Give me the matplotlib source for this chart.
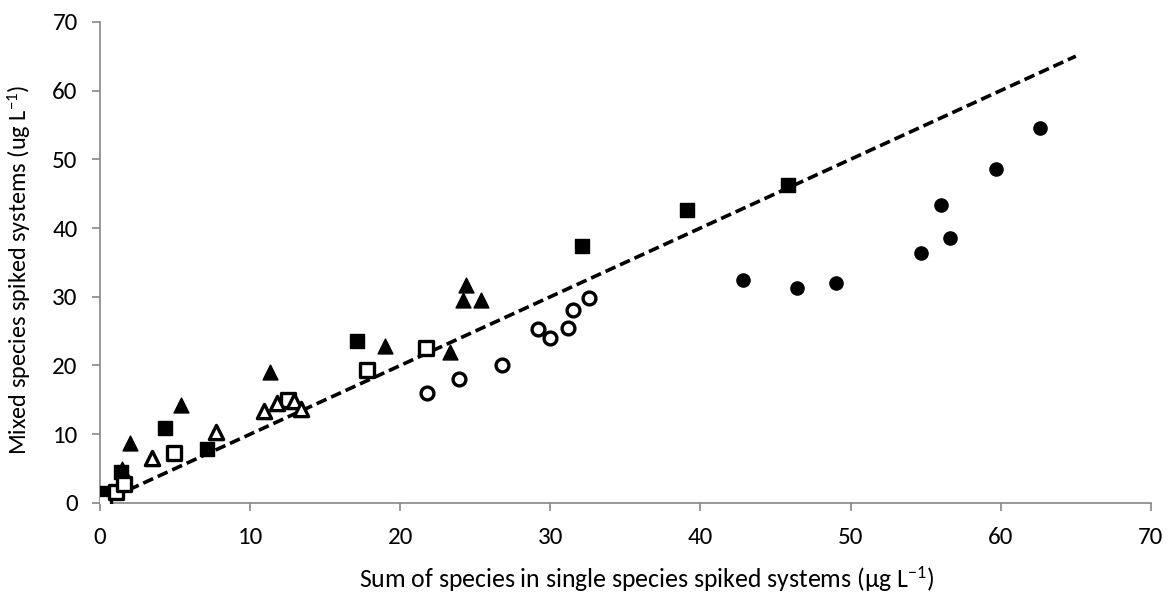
import numpy as np
import matplotlib.pyplot as plt

plt.rcParams['font.family'] = ['Carlito', 'Open Sans', 'DejaVu Sans']
plt.rcParams['mathtext.default'] = 'regular'

# filled circles
fc_x = [42.8, 46.4, 49.0, 54.7, 56.0, 56.6, 59.7, 62.6]
fc_y = [32.5, 31.3, 32.0, 36.3, 43.4, 38.6, 48.6, 54.6]
# open circles
oc_x = [21.8, 23.9, 26.8, 29.2, 30.0, 31.2, 31.5, 32.6]
oc_y = [16.0, 18.0, 20.1, 25.3, 24.0, 25.4, 28.0, 29.8]
# filled squares
fs_x = [0.3, 1.4, 4.3, 7.1, 17.1, 32.1, 39.1, 45.8]
fs_y = [1.5, 4.5, 10.9, 7.9, 23.5, 37.4, 42.6, 46.3]
# open squares
os_x = [0.3, 1.1, 1.6, 4.9, 12.5, 17.8, 21.7]
os_y = [0.1, 1.6, 2.8, 7.3, 15.0, 19.3, 22.5]
# filled triangles
ft_x = [1.5, 2.0, 5.4, 11.3, 19.0, 23.3, 24.2, 24.4, 25.4]
ft_y = [4.9, 8.7, 14.2, 19.0, 22.9, 22.0, 29.5, 31.7, 29.6]
# open triangles
ot_x = [3.5, 7.7, 10.9, 11.8, 12.9, 13.4]
ot_y = [6.5, 10.3, 13.4, 14.6, 14.8, 13.7]

fig = plt.figure(figsize=(11.69, 5.97), dpi=100)
ax = fig.add_axes([0.0855, 0.1575, 0.899, 0.806])

ax.plot([0, 65], [0, 65], color='black', linestyle=(0, (3, 1.4)), linewidth=2.6, zorder=1)

ax.scatter(fc_x, fc_y, marker='o', s=90, color='black', zorder=3)
ax.scatter(oc_x, oc_y, marker='o', s=85, facecolor='white', edgecolor='black', linewidth=2.4, zorder=3)
ax.scatter(fs_x, fs_y, marker='s', s=95, color='black', zorder=3)
ax.scatter(os_x, os_y, marker='s', s=90, facecolor='white', edgecolor='black', linewidth=2.4, zorder=3)
ax.scatter(ft_x, ft_y, marker='^', s=115, color='black', zorder=3)
ax.scatter(ot_x, ot_y, marker='^', s=105, facecolor='white', edgecolor='black', linewidth=2.4, zorder=3)

ax.set_xlim(0, 70)
ax.set_ylim(0, 70)
ax.set_xticks(np.arange(0, 71, 10))
ax.set_yticks(np.arange(0, 71, 10))
for s in ['top', 'right']:
    ax.spines[s].set_visible(False)
for s in ['left', 'bottom']:
    ax.spines[s].set_color('#868686')
    ax.spines[s].set_linewidth(1.2)
ax.tick_params(direction='out', length=6, color='#868686', width=1.2, labelsize=18)
ax.tick_params(axis='x', pad=11)
ax.tick_params(axis='y', pad=10)

ax.set_xlabel('Sum of species in single species spiked systems (μg L$^{-1}$)', fontsize=18.5)
ax.set_ylabel('Mixed species spiked systems (ug L$^{-1}$)', fontsize=17.5)
ax.xaxis.set_label_coords(0.52, -0.128)
ax.yaxis.set_label_coords(-0.064, 0.485)

fig.savefig('out.png', dpi=100)
